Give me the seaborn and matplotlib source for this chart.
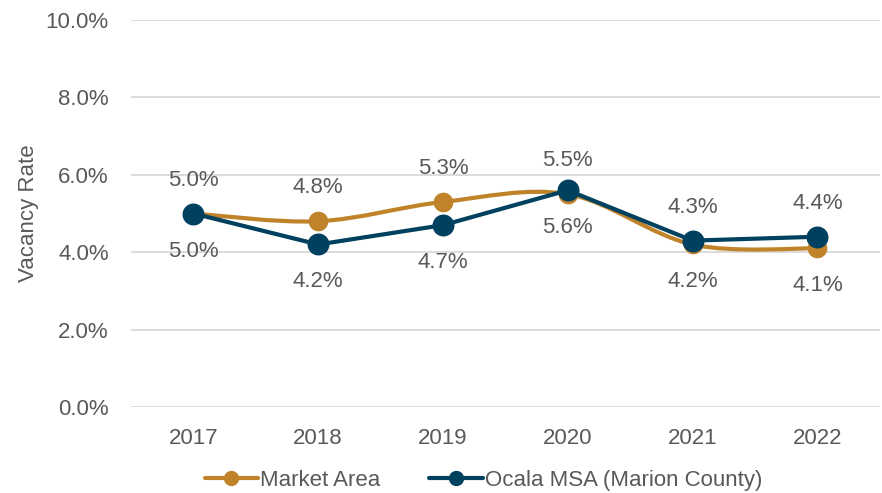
import matplotlib
matplotlib.use("Agg")
import matplotlib.pyplot as plt
import seaborn as sns
import numpy as np
import pandas as pd
from matplotlib.path import Path
from matplotlib.patches import PathPatch
from matplotlib.lines import Line2D
from matplotlib.ticker import FuncFormatter

years = ["2017", "2018", "2019", "2020", "2021", "2022"]
market_area = [5.0, 4.8, 5.3, 5.5, 4.2, 4.1]
ocala_msa = [5.0, 4.2, 4.7, 5.6, 4.3, 4.4]
# label placement: +1 above the point, -1 below
market_pos = [1, 1, 1, 1, -1, -1]
ocala_pos = [-1, -1, -1, -1, 1, 1]

gold = "#C0832A"
navy = "#00415F"
text_gray = "#595959"

sns.set_theme(style="white")
plt.rcParams["font.family"] = ["Liberation Sans", "DejaVu Sans"]

fig = plt.figure(figsize=(8.82, 4.93), dpi=100)
ax = fig.add_axes([0.1485, 0.1744, 0.849, 0.785])

x = np.arange(len(years))


def smooth_path(xs, ys, t=1 / 6):
    # Excel-like smoothed line: cubic bezier segments through the points
    verts = [(xs[0], ys[0])]
    codes = [Path.MOVETO]
    n = len(xs)
    for i in range(n - 1):
        p0 = (xs[max(i - 1, 0)], ys[max(i - 1, 0)])
        p1 = (xs[i], ys[i])
        p2 = (xs[i + 1], ys[i + 1])
        p3 = (xs[min(i + 2, n - 1)], ys[min(i + 2, n - 1)])
        c1 = (p1[0] + (p2[0] - p0[0]) * t, p1[1] + (p2[1] - p0[1]) * t)
        c2 = (p2[0] - (p3[0] - p1[0]) * t, p2[1] - (p3[1] - p1[1]) * t)
        verts += [c1, c2, p2]
        codes += [Path.CURVE4] * 3
    return Path(verts, codes)


ax.add_patch(PathPatch(smooth_path(x, market_area), facecolor="none",
                       edgecolor=gold, lw=3, zorder=3, capstyle="round"))
sns.scatterplot(x=x, y=market_area, color=gold, s=200, edgecolor=gold,
                linewidth=0, zorder=4, ax=ax)

sns.lineplot(x=x, y=ocala_msa, color=navy, lw=3, zorder=5, ax=ax)
sns.scatterplot(x=x, y=ocala_msa, color=navy, s=250, edgecolor=navy,
                linewidth=0, zorder=6, ax=ax)

for vals, pos in [(market_area, market_pos), (ocala_msa, ocala_pos)]:
    for xi, v, p in zip(x, vals, pos):
        ax.annotate(f"{v:.1f}%", (xi, v), xytext=(0, 24 if p > 0 else -27),
                    textcoords="offset points", ha="center", va="center",
                    fontsize=16, color=text_gray, zorder=7)

ax.set_xlim(-0.5, len(years) - 0.5)
ax.set_ylim(0, 10)
ax.set_yticks(np.arange(0, 10.1, 2))
ax.yaxis.set_major_formatter(FuncFormatter(lambda v, _: f"{v:.1f}%"))
ax.set_xticks(x)
ax.set_xticklabels(years)
ax.tick_params(axis="both", labelsize=16, colors=text_gray, length=0)
ax.tick_params(axis="y", pad=16)
ax.tick_params(axis="x", pad=15)
ax.grid(axis="y", color="#D9D9D9", lw=1.3)
ax.set_axisbelow(True)
for s in ax.spines.values():
    s.set_visible(False)
ax.set_ylabel("Vacancy Rate", fontsize=16, color=text_gray, labelpad=5)
ax.set_xlabel("")

handles = [
    Line2D([0], [0], color=gold, lw=3, marker="o", markersize=10, label="Market Area"),
    Line2D([0], [0], color=navy, lw=3, marker="o", markersize=10,
           label="Ocala MSA (Marion County)"),
]
fig.legend(handles=handles, loc="center", bbox_to_anchor=(0.548, 0.026), ncol=2,
           frameon=False, fontsize=16, labelcolor=text_gray, handlelength=2.4,
           handletextpad=0.1, columnspacing=2.2)

fig.savefig("out.png", dpi=100)
